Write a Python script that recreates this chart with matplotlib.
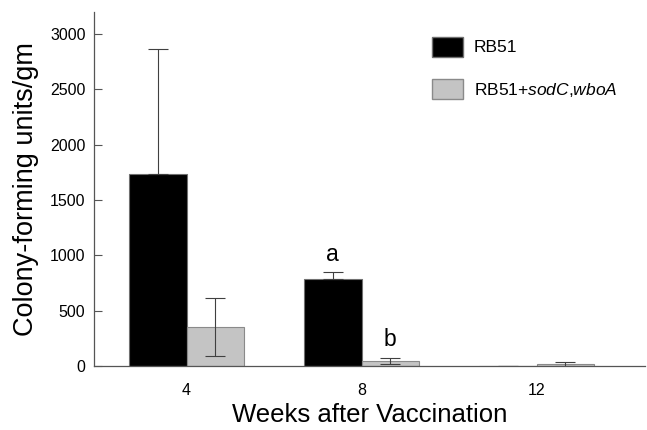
import numpy as np
import matplotlib
import matplotlib.pyplot as plt
from matplotlib.patches import Patch

plt.switch_backend('agg')

plt.rcParams['font.family'] = ['Liberation Sans', 'DejaVu Sans']
plt.rcParams['mathtext.fontset'] = 'custom'
plt.rcParams['mathtext.rm'] = 'Liberation Sans'
plt.rcParams['mathtext.it'] = 'Liberation Sans:italic'

weeks = ['4', '8', '12']
rb51 = [1739, 784, 0]
rb51_err = [1126, 63, 0]
mutant = [351, 45, 18]
mutant_err = [261, 27, 18]
letters_rb51 = ['', 'a', '']
letters_mutant = ['', 'b', '']
mutant_label = 'RB51+$\\mathit{sodC{,}wboA}$'

fig = plt.figure(figsize=(6.47, 4.30), dpi=100)
ax = fig.add_axes([0.145, 0.149, 0.852, 0.823])

x = np.arange(len(weeks))
w = 0.33
ax.bar(x - w / 2, rb51, w, color='black', edgecolor='#707070', linewidth=0.8,
       yerr=[np.zeros(3), rb51_err], capsize=7.5,
       error_kw=dict(ecolor='#404040', elinewidth=0.8, capthick=0.8),
       label='RB51')
ax.bar(x + w / 2, mutant, w, color='#c4c4c4', edgecolor='#8a8a8a', linewidth=0.8,
       yerr=mutant_err, capsize=7,
       error_kw=dict(ecolor='#404040', elinewidth=0.8, capthick=0.8),
       label=mutant_label)

for i in range(len(weeks)):
    if letters_rb51[i]:
        ax.text(x[i] - w / 2, rb51[i] + rb51_err[i] + 60, letters_rb51[i],
                ha='center', va='bottom', fontsize=16.5)
    if letters_mutant[i]:
        ax.text(x[i] + w / 2, mutant[i] + mutant_err[i] + 60, letters_mutant[i],
                ha='center', va='bottom', fontsize=16.5)

ax.set_xlim(-0.53, 2.62)
ax.set_ylim(0, 3200)
ax.set_xticks(x)
ax.set_xticklabels(weeks, fontsize=11.5)
ax.set_yticks([0, 500, 1000, 1500, 2000, 2500, 3000])
ax.tick_params(axis='y', direction='in', length=6, width=0.8, color='#555555',
               labelsize=11.5, pad=6)
ax.tick_params(axis='x', length=0, pad=12)
for s in ['top', 'right']:
    ax.spines[s].set_visible(False)
for s in ['left', 'bottom']:
    ax.spines[s].set_color('#555555')
    ax.spines[s].set_linewidth(0.9)

ax.set_xlabel('Weeks after Vaccination', fontsize=18.5, labelpad=4)
ax.set_ylabel('Colony-forming units/gm', fontsize=19.5, labelpad=8)

handles = [Patch(facecolor='black', edgecolor='#707070', label='RB51'),
           Patch(facecolor='#c4c4c4', edgecolor='#8a8a8a', label=mutant_label)]
ax.legend(handles=handles, loc='upper left', bbox_to_anchor=(0.585, 0.975),
          frameon=False, fontsize=12.5, handlelength=1.8, handleheight=1.4,
          labelspacing=1.3, handletextpad=0.6)

fig.savefig('out.png', dpi=100)
